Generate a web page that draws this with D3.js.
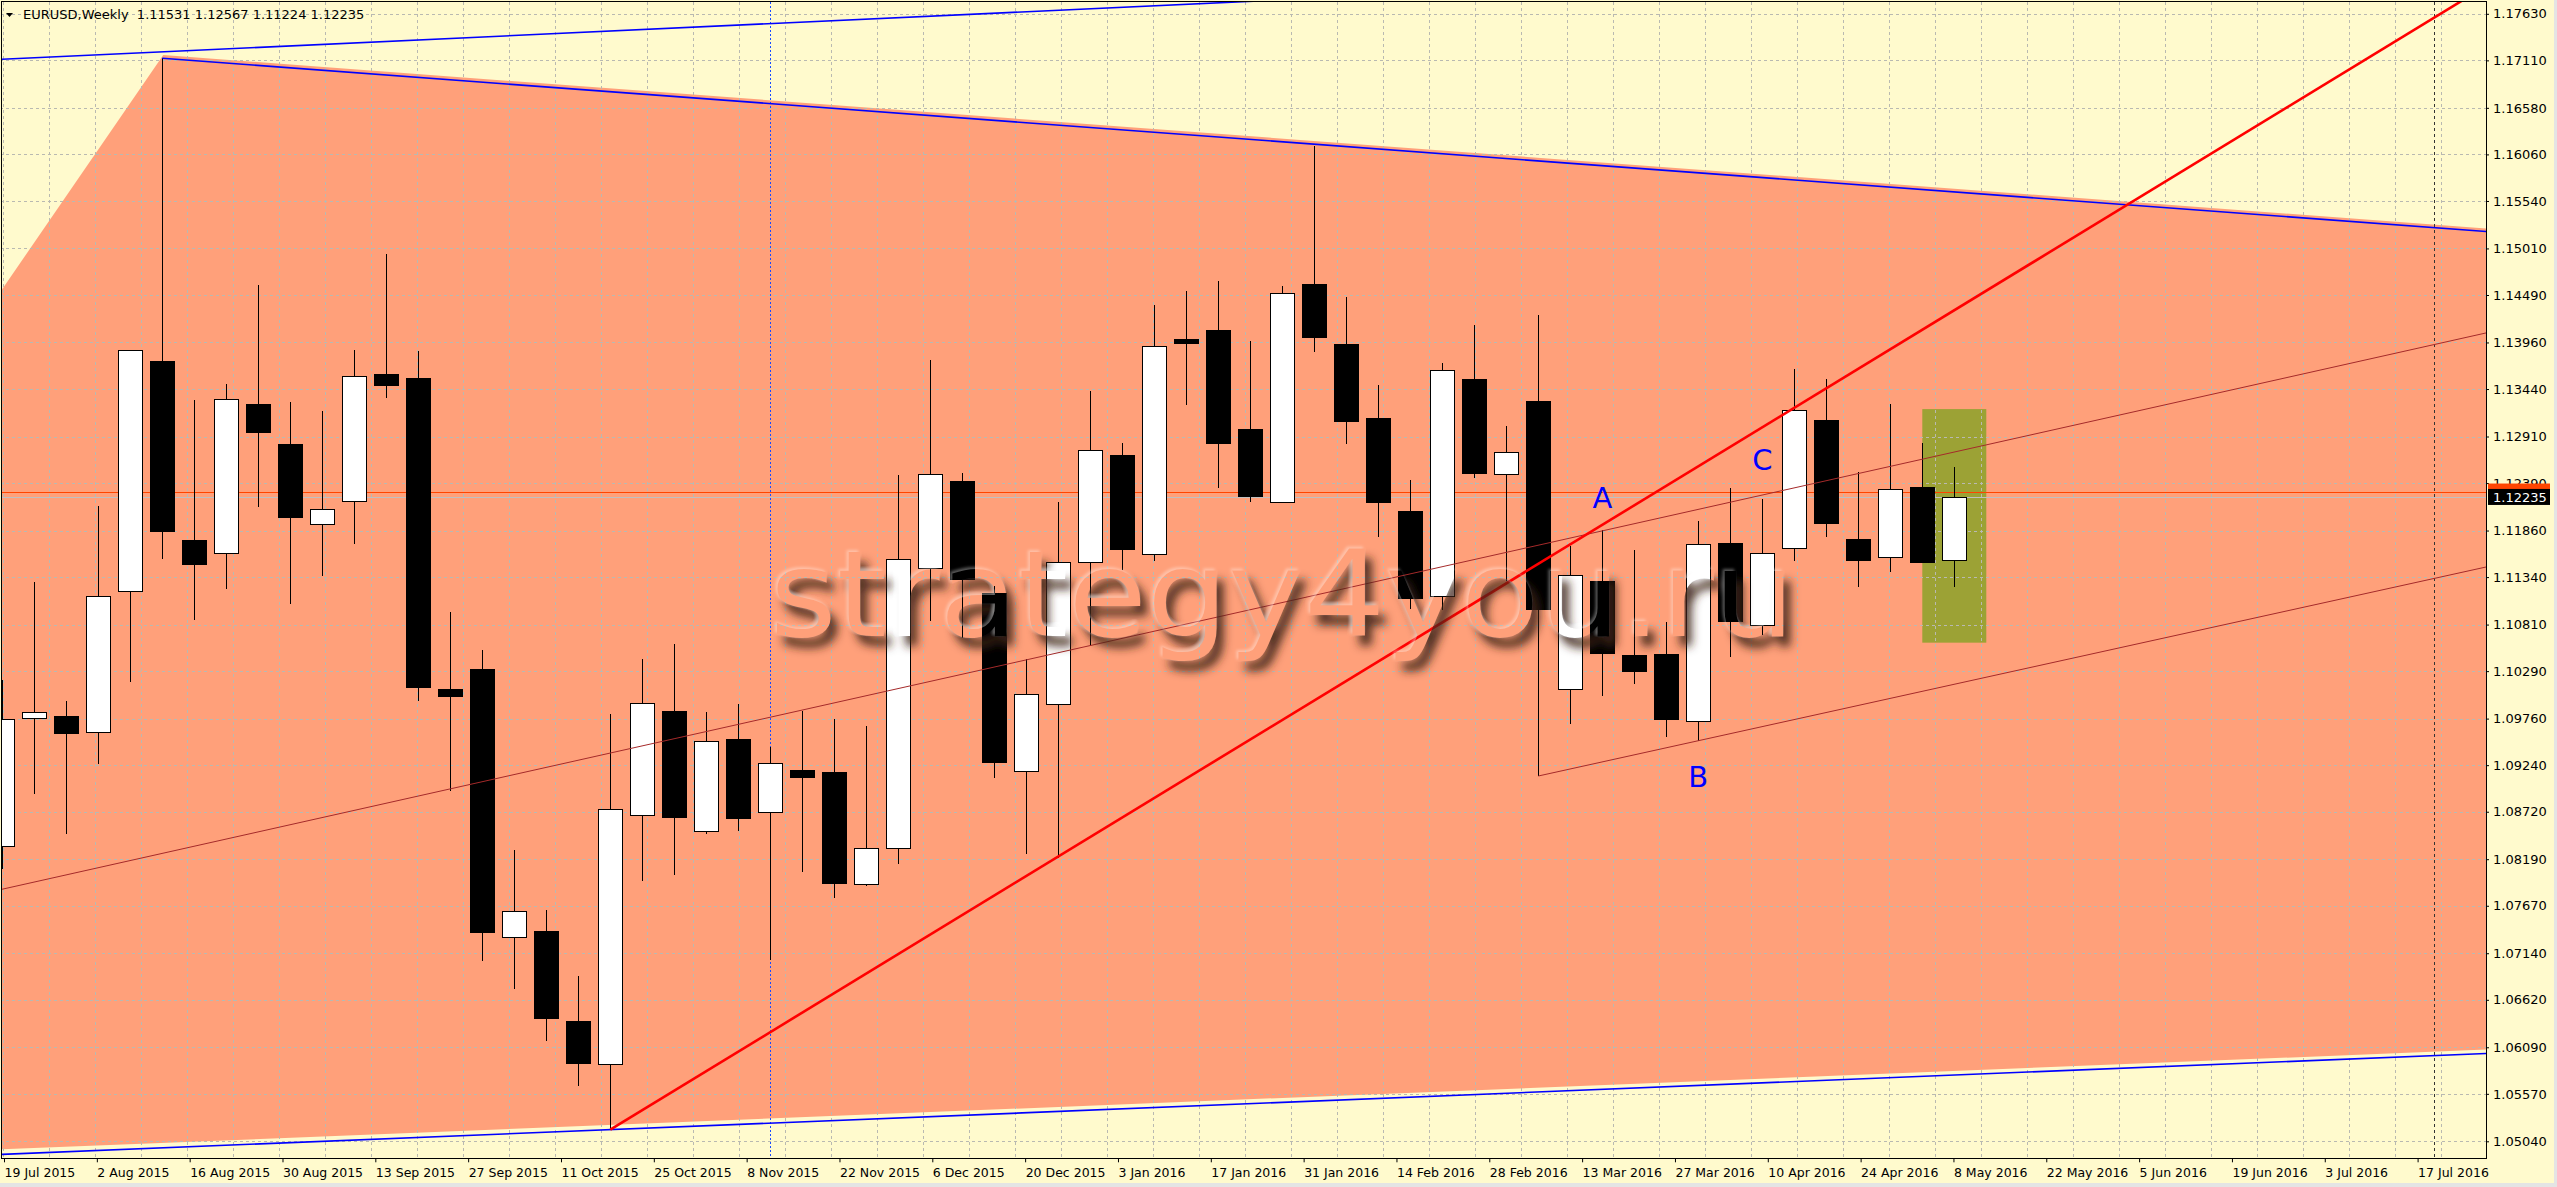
<!DOCTYPE html>
<html>
<head>
<meta charset="utf-8">
<script src="https://cdn.jsdelivr.net/npm/d3@7"></script>
<style>
body { margin: 0; background: #fffacd; }
svg { display: block; }
text { font-family: "DejaVu Sans", sans-serif; }
</style>
</head>
<body>
<svg id="chart" width="2557" height="1187"></svg>
<script>
// weekly EURUSD bars (bar 0 is the left-most, partly hidden)
const opens = [1.08335, 1.09765, 1.09789, 1.09615, 1.11188, 1.13755, 1.11757, 1.11613, 1.13276, 1.12827,
  1.11936, 1.12187, 1.13611, 1.13563, 1.10094, 1.10315, 1.07324, 1.07390, 1.06385, 1.05906,
  1.08682, 1.09842, 1.08502, 1.09531, 1.08712, 1.09190, 1.09166, 1.07910, 1.08317, 1.11440,
  1.12415, 1.11165, 1.09179, 1.09920, 1.11511, 1.12702, 1.11601, 1.13994, 1.14096, 1.12989,
  1.12181, 1.14616, 1.13946, 1.13115, 1.12080, 1.11129, 1.13551, 1.12493, 1.13306, 1.10088,
  1.11296, 1.10471, 1.10483, 1.09729, 1.11721, 1.10800, 1.11667, 1.13091, 1.11769, 1.11559,
  1.12349, 1.11531];
const highs = [1.10190, 1.11284, 1.09956, 1.12134, 1.13880, 1.17133, 1.13318, 1.13498, 1.14604, 1.13294,
  1.13192, 1.13874, 1.14951, 1.13862, 1.10949, 1.10524, 1.08293, 1.07623, 1.06887, 1.09812,
  1.10429, 1.10596, 1.09836, 1.09926, 1.09448, 1.09848, 1.09753, 1.09675, 1.12480, 1.13767,
  1.12505, 1.11236, 1.10429, 1.12181, 1.13420, 1.12839, 1.14377, 1.14538, 1.14646, 1.13976,
  1.14591, 1.16154, 1.14467, 1.13486, 1.12427, 1.13731, 1.14156, 1.13025, 1.14269, 1.11691,
  1.11864, 1.11643, 1.10841, 1.11966, 1.12337, 1.12211, 1.13665, 1.13551, 1.12510, 1.13276,
  1.12839, 1.12567];
const lows = [1.08084, 1.08921, 1.08467, 1.09250, 1.10166, 1.11541, 1.10865, 1.11212, 1.12122, 1.11045,
  1.11350, 1.11715, 1.13336, 1.09962, 1.08957, 1.07049, 1.06738, 1.06164, 1.05661, 1.05170,
  1.07952, 1.08018, 1.08472, 1.08508, 1.07067, 1.08042, 1.07761, 1.07886, 1.08132, 1.10854,
  1.10656, 1.09101, 1.08245, 1.08203, 1.10566, 1.11422, 1.11523, 1.13258, 1.12331, 1.12181,
  1.12170, 1.13856, 1.12822, 1.11793, 1.10980, 1.10973, 1.12445, 1.11302, 1.09119, 1.09705,
  1.10010, 1.10142, 1.09549, 1.09513, 1.10447, 1.10698, 1.11523, 1.11793, 1.11224, 1.11392,
  1.11499, 1.11224];
const closes = [1.09759, 1.09831, 1.09597, 1.11129, 1.13874, 1.11852, 1.11482, 1.13330, 1.12965, 1.12008,
  1.12098, 1.13587, 1.13480, 1.10118, 1.10016, 1.07372, 1.07617, 1.06415, 1.05912, 1.08748,
  1.09938, 1.08664, 1.09513, 1.08646, 1.09262, 1.09113, 1.07928, 1.08311, 1.11547, 1.12487,
  1.11314, 1.09280, 1.10040, 1.11505, 1.12756, 1.11649, 1.13916, 1.13958, 1.12833, 1.12241,
  1.14508, 1.14018, 1.13085, 1.12175, 1.11111, 1.13647, 1.12498, 1.12732, 1.10979, 1.11362,
  1.10489, 1.10297, 1.09753, 1.11715, 1.10848, 1.11613, 1.13210, 1.11948, 1.11535, 1.12319,
  1.11505, 1.12235];

const priceTicks = [1.17630, 1.17110, 1.16580, 1.16060, 1.15540, 1.15010, 1.14490, 1.13960, 1.13440,
  1.12910, 1.12390, 1.11860, 1.11340, 1.10810, 1.10290, 1.09760, 1.09240, 1.08720, 1.08190,
  1.07670, 1.07140, 1.06620, 1.06090, 1.05570, 1.05040];

const timeLabels = ["19 Jul 2015", "2 Aug 2015", "16 Aug 2015", "30 Aug 2015", "13 Sep 2015",
  "27 Sep 2015", "11 Oct 2015", "25 Oct 2015", "8 Nov 2015", "22 Nov 2015", "6 Dec 2015",
  "20 Dec 2015", "3 Jan 2016", "17 Jan 2016", "31 Jan 2016", "14 Feb 2016", "28 Feb 2016",
  "13 Mar 2016", "27 Mar 2016", "10 Apr 2016", "24 Apr 2016", "8 May 2016", "22 May 2016",
  "5 Jun 2016", "19 Jun 2016", "3 Jul 2016", "17 Jul 2016"];

// drawn objects: [bar, price] anchors
const upperChannel = [[0, 1.17122], [15.55, 1.17380]];
const topTrend = [[5, 1.17133], [41, 1.16174]];
const bottomTrend = [[19, 1.05170], [77, 1.06012]];
const redTrend = [[19, 1.05170], [33, 1.08220]];
const brownLong = [[0, 1.07855], [77, 1.14017]];
const brownShort = [[48, 1.09119], [53, 1.09513]];
const salmonTriangle = [[5.03, 1.17170], [301, 1.09270], [-19.02, 1.04677]];
const oliveBox = [[60, 1.13216], [62, 1.10608]];
const separators = [24, 76];
const waveLabels = [["A", 50, 1.12112], ["B", 53, 1.08997], ["C", 55, 1.12541]];
const bidPrice = 1.12235;
const levelPrice = 1.12290;
const header = "EURUSD,Weekly  1.11531 1.12567 1.11224 1.12235";

const bars = opens.map((o, i) => ({ i, o, h: highs[i], l: lows[i], c: closes[i] }));

const svg = d3.select("#chart");
const plot = { left: 1.5, top: 1.5, right: 2486, bottom: 1158.3 };

const x = d3.scaleLinear().domain([0, 61]).range([2.3, 1954.3]);
const y = d3.scaleLinear().domain([1.05040, 1.17630]).range([1141.3, 13.8]);
const xLabel = d3.scalePoint().domain(timeLabels).range([4, 2417.6]);

const defs = svg.append("defs");
defs.append("clipPath").attr("id", "clip")
  .append("rect")
  .attr("x", plot.left + 0.5).attr("y", plot.top + 0.5)
  .attr("width", plot.right - plot.left - 0.5).attr("height", plot.bottom - plot.top - 0.5);

const wm = defs.append("filter").attr("id", "wm")
  .attr("x", "-5%").attr("y", "-30%").attr("width", "115%").attr("height", "170%");
wm.append("feGaussianBlur").attr("in", "SourceAlpha").attr("stdDeviation", 5).attr("result", "b");
wm.append("feOffset").attr("in", "b").attr("dx", 7).attr("dy", 10).attr("result", "o");
wm.append("feComposite").attr("in", "o").attr("in2", "SourceAlpha").attr("operator", "out").attr("result", "s");
wm.append("feFlood").attr("flood-color", "#3e2418").attr("flood-opacity", 0.9).attr("result", "f");
wm.append("feComposite").attr("in", "f").attr("in2", "s").attr("operator", "in").attr("result", "sh");
wm.append("feGaussianBlur").attr("in", "SourceAlpha").attr("stdDeviation", 1.5).attr("result", "b2");
wm.append("feOffset").attr("in", "b2").attr("dx", -2).attr("dy", -2).attr("result", "o2");
wm.append("feComposite").attr("in", "o2").attr("in2", "SourceAlpha").attr("operator", "out").attr("result", "s2");
wm.append("feFlood").attr("flood-color", "#ffffff").attr("flood-opacity", 0.35).attr("result", "f2");
wm.append("feComposite").attr("in", "f2").attr("in2", "s2").attr("operator", "in").attr("result", "hl");
const merge = wm.append("feMerge");
merge.append("feMergeNode").attr("in", "sh");
merge.append("feMergeNode").attr("in", "hl");

// background
svg.append("rect").attr("width", 2557).attr("height", 1187).attr("fill", "#fffacd");
svg.append("rect").attr("x", 0).attr("y", 1183).attr("width", 2557).attr("height", 4).attr("fill", "#e4e4e4");
svg.append("rect").attr("x", 2554).attr("y", 0).attr("width", 3).attr("height", 1187).attr("fill", "#e4e4e4");

const g = svg.append("g").attr("clip-path", "url(#clip)");

// filled background objects
g.append("polygon")
  .attr("points", salmonTriangle.map(d => [x(d[0]), y(d[1])].join(",")).join(" "))
  .attr("fill", "#ffa07a");

g.append("rect")
  .attr("x", x(oliveBox[0][0])).attr("y", y(oliveBox[0][1]))
  .attr("width", x(oliveBox[1][0]) - x(oliveBox[0][0]))
  .attr("height", y(oliveBox[1][1]) - y(oliveBox[0][1]))
  .attr("fill", "#9ca235");

// grid
const grid = g.append("g").attr("stroke", "#b9b9b1").attr("stroke-dasharray", "3,3")
  .attr("shape-rendering", "crispEdges");
grid.selectAll(".hg").data(priceTicks).join("line")
  .attr("x1", 0).attr("x2", plot.right)
  .attr("y1", d => Math.round(y(d)) + 0.5).attr("y2", d => Math.round(y(d)) + 0.5);
const gridStep = 46 / 32;
grid.selectAll(".vg").data(d3.range(0, 55)).join("line")
  .attr("x1", k => Math.round(x(0.0125 + k * gridStep)) + 0.5)
  .attr("x2", k => Math.round(x(0.0125 + k * gridStep)) + 0.5)
  .attr("y1", plot.top).attr("y2", plot.bottom);

// period separators
g.selectAll(".sep").data(separators).join("line")
  .attr("x1", d => Math.round(x(d)) + 0.5).attr("x2", d => Math.round(x(d)) + 0.5)
  .attr("y1", plot.top).attr("y2", plot.bottom)
  .attr("stroke", (d, i) => i === 0 ? "#1a4cff" : "#333")
  .attr("stroke-dasharray", (d, i) => i === 0 ? "2,2" : "3,3")
  .attr("shape-rendering", "crispEdges");

// bid line and horizontal level
g.append("line").attr("x1", 0).attr("x2", plot.right)
  .attr("y1", Math.round(y(bidPrice)) + 0.5).attr("y2", Math.round(y(bidPrice)) + 0.5)
  .attr("stroke", "#c0c0c0").attr("shape-rendering", "crispEdges");
g.append("line").attr("x1", 0).attr("x2", plot.right)
  .attr("y1", Math.round(y(levelPrice)) + 0.5).attr("y2", Math.round(y(levelPrice)) + 0.5)
  .attr("stroke", "#ff4500").attr("shape-rendering", "crispEdges");

// candles
const cg = g.append("g").attr("shape-rendering", "crispEdges");
cg.selectAll(".wick").data(bars).join("line")
  .attr("x1", d => Math.round(x(d.i)) + 0.5).attr("x2", d => Math.round(x(d.i)) + 0.5)
  .attr("y1", d => Math.round(y(d.h))).attr("y2", d => Math.round(y(d.l)))
  .attr("stroke", "#000");
cg.selectAll(".body").data(bars).join("rect")
  .attr("x", d => Math.round(x(d.i)) - 11.5)
  .attr("y", d => Math.round(y(Math.max(d.o, d.c))) + 0.5)
  .attr("width", 24)
  .attr("height", d => Math.max(1, Math.round(y(Math.min(d.o, d.c))) - Math.round(y(Math.max(d.o, d.c)))))
  .attr("fill", d => d.c >= d.o ? "#fff" : "#000")
  .attr("stroke", "#000");

// trend lines
function priceAt(line, b) {
  const [[b1, p1], [b2, p2]] = line;
  return p1 + (p2 - p1) * (b - b1) / (b2 - b1);
}
function drawTrend(line, from, to, color, width) {
  g.append("line")
    .attr("x1", x(from)).attr("y1", y(priceAt(line, from)))
    .attr("x2", x(to)).attr("y2", y(priceAt(line, to)))
    .attr("stroke", color).attr("stroke-width", width);
}
drawTrend(brownLong, -1, 80, "#a52a2a", 1);
drawTrend(brownShort, 48, 80, "#a52a2a", 1);
drawTrend(upperChannel, -1, 60, "#0000ff", 1.6);
drawTrend(topTrend, 5, 80, "#0000ff", 1.6);
drawTrend(bottomTrend, -1, 80, "#0000ff", 1.6);
drawTrend(redTrend, 19, 100, "#ff0000", 2.6);

// watermark
g.append("text")
  .attr("x", 770).attr("y", 636)
  .attr("textLength", 1025).attr("lengthAdjust", "spacingAndGlyphs")
  .style("font-size", "120px")
  .attr("fill", "#000")
  .attr("filter", "url(#wm)")
  .text("strategy4you.ru");

// wave labels
g.selectAll(".wave").data(waveLabels).join("text")
  .attr("x", d => x(d[1])).attr("y", d => y(d[2]))
  .attr("text-anchor", "middle")
  .style("font-size", "29px")
  .attr("fill", "#0000ff")
  .text(d => d[0]);

// frame
svg.append("rect")
  .attr("x", plot.left).attr("y", plot.top)
  .attr("width", plot.right - plot.left).attr("height", plot.bottom - plot.top)
  .attr("fill", "none").attr("stroke", "#000").attr("shape-rendering", "crispEdges");

// price axis
const yAxis = svg.append("g")
  .attr("transform", `translate(${plot.right},0)`)
  .call(d3.axisRight(y).tickValues(priceTicks).tickFormat(d3.format(".5f")).tickSize(3).tickPadding(4));
yAxis.select(".domain").remove();
yAxis.selectAll("text").style("font-family", "DejaVu Sans").style("font-size", "13px").attr("fill", "#000");
yAxis.selectAll("line").attr("stroke", "#000");

// current price tags
svg.append("rect").attr("x", plot.right + 2).attr("y", y(levelPrice) - 8.5)
  .attr("width", 62).attr("height", 17).attr("fill", "#ff4500");
svg.append("rect").attr("x", plot.right + 2).attr("y", y(bidPrice) - 8)
  .attr("width", 62).attr("height", 16).attr("fill", "#000");
svg.append("text").attr("x", plot.right + 7).attr("y", y(bidPrice))
  .attr("dy", "0.36em").style("font-size", "13px").attr("fill", "#fff")
  .text(d3.format(".5f")(bidPrice));

// time axis
const xAxis = svg.append("g")
  .attr("transform", `translate(0,${plot.bottom})`)
  .call(d3.axisBottom(xLabel).tickSize(4).tickPadding(6));
xAxis.select(".domain").remove();
xAxis.selectAll("line").attr("stroke", "#000");
xAxis.selectAll("text")
  .attr("text-anchor", "start").attr("x", 0)
  .style("font-family", "DejaVu Sans").style("font-size", "12.5px").attr("fill", "#000");

// header
svg.append("path").attr("d", "M6,13 L13,13 L9.5,17 Z").attr("fill", "#000");
svg.append("text").attr("x", 23).attr("y", 19)
  .style("font-size", "13px").style("white-space", "pre").attr("fill", "#000")
  .text(header);
</script>
</body>
</html>
